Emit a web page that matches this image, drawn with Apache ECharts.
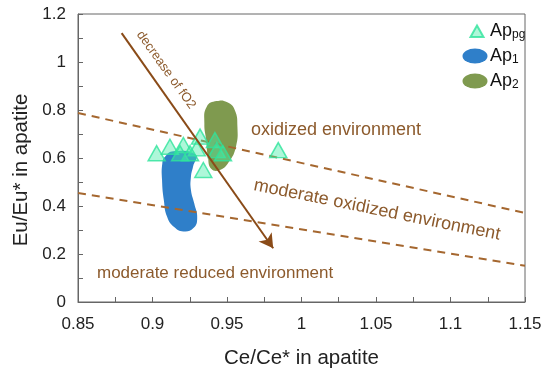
<!DOCTYPE html>
<html><head><meta charset="utf-8">
<script src="https://cdn.jsdelivr.net/npm/echarts@6/dist/echarts.min.js"></script>
<style>html,body{margin:0;padding:0;background:#fff}#c{width:550px;height:374px}</style>
</head><body><div id="c"></div>
<script>
// ---- data ----
const xTickLabels = ['0.85','0.9','0.95','1','1.05','1.1','1.15'];
const yTickLabels = ['0','0.2','0.4','0.6','0.8','1','1.2'];
const apPg = [[0.9028,0.62],[0.9117,0.647],[0.9207,0.654],[0.9185,0.62],[0.9319,0.689],[0.9297,0.64],
  [0.9419,0.675],[0.9431,0.633],[0.9341,0.55],[0.9252,0.62],[0.9473,0.62],[0.9844,0.633]];
const ap1Outline = [[0.9084,0.605],[0.914,0.628],[0.929,0.614],[0.9272,0.564],[0.9258,0.522],[0.9258,0.467],
  [0.928,0.411],[0.9300,0.349],[0.9275,0.308],[0.9207,0.294],[0.9145,0.312],[0.9098,0.355],[0.9076,0.425],
  [0.9064,0.508],[0.9066,0.578]];
const ap2Outline = [[0.9364,0.814],[0.9431,0.837],[0.9502,0.832],[0.9552,0.8],[0.9570,0.73],[0.9560,0.647],
  [0.9512,0.583],[0.9453,0.550],[0.9394,0.555],[0.9372,0.605],[0.9360,0.675],[0.9348,0.745]];
const upperBoundary = [[0.85,0.7875],[1.15,0.371]];
const lowerBoundary = [[0.85,0.454],[1.15,0.151]];
const fO2Arrow = [[0.8793,1.12],[0.981,0.224]];

const brown = '#8c5a2c';
const dashBrown = '#a5672f';
const FONT = '"Liberation Sans", Arial, sans-serif';

const chart = echarts.init(document.getElementById('c'));

function blobSeries(name, outline, color) {
  return {
    name, type: 'custom', z: 1,
    itemStyle: { color },
    data: [outline[0]],
    renderItem: (params, api) => ({
      type: 'polygon',
      shape: { points: outline.map(p => api.coord(p)), smooth: 0.5 },
      style: { fill: color }
    })
  };
}

chart.setOption({
  animation: false,
  textStyle: { fontFamily: FONT },
  grid: { left: 78, right: 25, top: 14, bottom: 72, show: true, borderColor: '#666', borderWidth: 1 },
  xAxis: {
    type: 'value', min: 0.85, max: 1.15, interval: 0.05,
    name: 'Ce/Ce* in apatite', nameLocation: 'middle', nameGap: 46,
    nameTextStyle: { fontSize: 20.5, color: '#222', fontFamily: FONT },
    axisLine: { lineStyle: { color: '#666' } },
    axisTick: { inside: true, length: 5, lineStyle: { color: '#666' } },
    minorTick: { show: true, splitNumber: 2, length: 5, lineStyle: { color: '#666' } },
    splitLine: { show: false },
    axisLabel: { fontSize: 17, color: '#222', margin: 14, fontFamily: FONT,
      formatter: (v, i) => xTickLabels[i] }
  },
  yAxis: {
    type: 'value', min: 0, max: 1.2, interval: 0.2,
    name: 'Eu/Eu* in apatite', nameLocation: 'middle', nameGap: 46,
    nameTextStyle: { fontSize: 20.5, color: '#222', fontFamily: FONT, padding: [0, 24, 0, 0] },
    axisLine: { lineStyle: { color: '#666' } },
    axisTick: { inside: true, length: 5, lineStyle: { color: '#666' } },
    minorTick: { show: true, splitNumber: 2, length: 5, lineStyle: { color: '#666' } },
    splitLine: { show: false },
    axisLabel: { fontSize: 17, color: '#222', margin: 12, fontFamily: FONT,
      formatter: (v, i) => yTickLabels[i] }
  },
  legend: {
    orient: 'vertical', left: 455, top: 17, itemWidth: 28, itemHeight: 15, itemGap: 6,
    textStyle: { fontSize: 18, color: '#111', fontFamily: FONT, padding: [0,0,0,-4],
      rich: { s: { fontSize: 12, color: '#111', verticalAlign: 'bottom', padding: [8,0,0,0], fontFamily: FONT } } },
    formatter: n => n === 'Ap_pg' ? 'Ap{s|pg}' : n === 'Ap1' ? 'Ap{s|1}' : 'Ap{s|2}',
    data: [
      { name: 'Ap_pg', icon: 'path://M0,0 M28,15 M16,2 L22.5,13.5 L9.5,13.5 Z' },
      { name: 'Ap1', icon: 'path://M0,10 A15,9 0 1,0 30,10 A15,9 0 1,0 0,10 Z' },
      { name: 'Ap2', icon: 'path://M0,10 A15,9 0 1,0 30,10 A15,9 0 1,0 0,10 Z' }
    ]
  },
  graphic: [
    { type: 'text', x: 251, y: 130, style: { text: 'oxidized environment', font: '18px ' + FONT, fill: brown, verticalAlign: 'middle' } },
    { type: 'text', x: 377, y: 210, rotation: -0.2, style: { text: 'moderate oxidized environment', font: '18px ' + FONT, fill: brown, align: 'center', verticalAlign: 'middle' } },
    { type: 'text', x: 97, y: 273, style: { text: 'moderate reduced environment', font: '17px ' + FONT, fill: brown, verticalAlign: 'middle' } },
    { type: 'text', x: 166, y: 70, rotation: -0.95, style: { text: 'decrease of fO2', font: '13px ' + FONT, fill: brown, align: 'center', verticalAlign: 'middle' } }
  ],
  series: [
    blobSeries('Ap1', ap1Outline, '#2f7fc9'),
    blobSeries('Ap2', ap2Outline, '#7f9a4f'),
    { type: 'line', z: 2, data: upperBoundary, symbol: 'none', silent: true,
      lineStyle: { color: dashBrown, width: 2, type: [8, 6] } },
    { type: 'line', z: 2, data: lowerBoundary, symbol: 'none', silent: true,
      lineStyle: { color: dashBrown, width: 2, type: [8, 6] } },
    { type: 'line', z: 3, data: [], silent: true,
      markLine: { silent: true, symbol: ['none', 'arrow'], symbolSize: [12, 14], label: { show: false },
        lineStyle: { color: '#8a4b18', width: 2, type: 'solid' },
        data: [[{ coord: fO2Arrow[0] }, { coord: fO2Arrow[1] }]] } },
    { name: 'Ap_pg', type: 'scatter', z: 4, data: apPg, symbol: 'triangle', symbolSize: [17, 15],
      itemStyle: { color: 'rgba(70,236,168,0.55)', borderColor: '#2ee39b', borderWidth: 1.5 } }
  ]
});
</script></body></html>
